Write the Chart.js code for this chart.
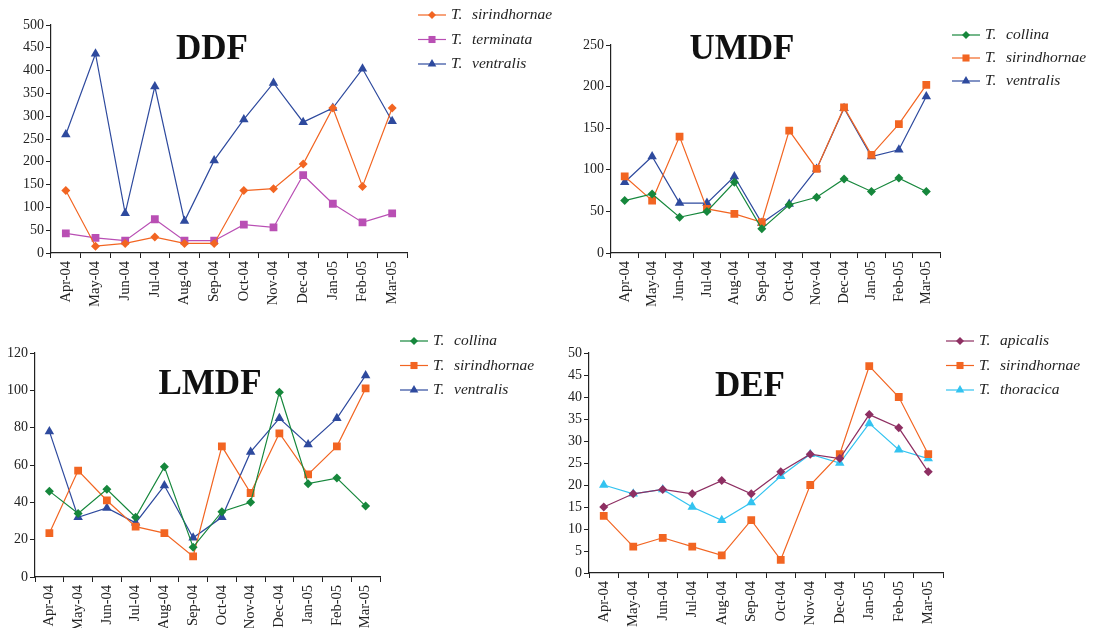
<!DOCTYPE html>
<html>
<head>
<meta charset="utf-8">
<script src="https://cdn.jsdelivr.net/npm/chart.js@4.4.1/dist/chart.umd.min.js"></script>
<style>
  body { margin: 0; background: #fff; }
  .panel { position: absolute; }
</style>
</head>
<body>
<div class="panel" style="left:0;top:0"><canvas id="ddf" width="560" height="318"></canvas></div>
<div class="panel" style="left:560px;top:0"><canvas id="umdf" width="540" height="318"></canvas></div>
<div class="panel" style="left:0;top:320px"><canvas id="lmdf" width="560" height="308"></canvas></div>
<div class="panel" style="left:560px;top:320px"><canvas id="def" width="540" height="308"></canvas></div>
<script>
var months = ["Apr-04", "May-04", "Jun-04", "Jul-04", "Aug-04", "Sep-04", "Oct-04", "Nov-04", "Dec-04", "Jan-05", "Feb-05", "Mar-05"];

// DDF
var ddfSirindhornae = [137, 15, 21, 35, 21, 21, 137, 141, 195, 318, 146, 318];
var ddfTerminata = [43, 33, 27, 74, 27, 27, 62, 56, 171, 108, 67, 87];
var ddfVentralis = [260, 437, 87, 365, 70, 203, 293, 373, 287, 318, 404, 289];

// UMDF
var umdfCollina = [63, 71, 43, 50, 85, 29, 58, 67, 89, 74, 90, 74];
var umdfSirindhornae = [92, 63, 140, 53, 47, 37, 147, 101, 175, 118, 155, 202];
var umdfVentralis = [85, 116, 60, 60, 92, 36, 59, 101, 174, 116, 124, 188];

// LMDF
var lmdfCollina = [46, 34, 47, 32, 59, 16, 35, 40, 99, 50, 53, 38];
var lmdfSirindhornae = [23.5, 57, 41, 27, 23.5, 11, 70, 45, 77, 55, 70, 101];
var lmdfVentralis = [78, 32, 37, 29, 49, 21, 32, 67, 85, 71, 85, 108];

// DEF
var defApicalis = [15, 18, 19, 18, 21, 18, 23, 27, 26, 36, 33, 23];
var defSirindhornae = [13, 6, 8, 6, 4, 12, 3, 20, 27, 47, 40, 27];
var defThoracica = [20, 18, 19, 15, 12, 16, 22, 27, 25, 34, 28, 26];

var ORANGE = "#f26522";
var BLUE = "#2e4a9e";
var MAGENTA = "#b94fb4";
var GREEN = "#16873c";
var PLUM = "#8e2f62";
var CYAN = "#33c3f0";

function series(name, data, color, style) {
    var r = style === "triangle" ? 5.5 : (style === "rect" ? 5.5 : 4.5);
    return {
        label: name,
        data: data,
        borderColor: color,
        backgroundColor: color,
        borderWidth: 1.2,
        pointStyle: style,
        pointRadius: r,
        pointHoverRadius: r,
        pointBorderWidth: 0,
        tension: 0
    };
}

// draws the big title and the line+marker legend at fixed spots
var panelDecor = {
    id: "panelDecor",
    afterDraw: function (chart, args, opts) {
        var ctx = chart.ctx;
        ctx.save();
        ctx.fillStyle = "#111";
        ctx.font = "bold 35px 'Liberation Serif', serif";
        ctx.textAlign = "center";
        ctx.textBaseline = "middle";
        ctx.fillText(opts.title, opts.titleX, opts.titleY);

        chart.data.datasets.forEach(function (ds, i) {
            var y = opts.legendY + i * opts.legendGap;
            ctx.strokeStyle = ds.borderColor;
            ctx.lineWidth = 1.2;
            ctx.beginPath();
            ctx.moveTo(opts.legendX, y);
            ctx.lineTo(opts.legendX + 28, y);
            ctx.stroke();
            ctx.fillStyle = ds.backgroundColor;
            Chart.helpers.drawPoint(ctx, { pointStyle: ds.pointStyle, radius: ds.pointRadius - 0.5, rotation: 0, borderWidth: 0 }, opts.legendX + 14, y);
            ctx.fillStyle = "#222";
            ctx.font = "italic 15.5px 'Liberation Serif', serif";
            ctx.textAlign = "left";
            ctx.textBaseline = "middle";
            ctx.fillText("T.", opts.legendX + 33, y);
            ctx.fillText(ds.label, opts.legendX + 54, y);
        });
        ctx.restore();
    }
};

function makePanel(id, datasets, yMax, yStep, lay, decor) {
    var ctx = document.getElementById(id).getContext("2d");
    return new Chart(ctx, {
        type: "line",
        data: { labels: months, datasets: datasets },
        options: {
            responsive: false,
            animation: false,
            layout: { padding: { top: lay.top, right: lay.right, left: 0, bottom: 0 } },
            scales: {
                x: {
                    offset: true,
                    grid: { offset: true, drawOnChartArea: false, drawTicks: true, tickLength: 5, color: "#222", lineWidth: 1 },
                    border: { color: "#222", width: 1.2 },
                    ticks: {
                        minRotation: 90,
                        maxRotation: 90,
                        autoSkip: false,
                        padding: 3,
                        color: "#222",
                        font: { family: "'Liberation Serif', serif", size: 14.5 }
                    },
                    afterFit: function (scale) { scale.height = lay.xh; }
                },
                y: {
                    min: 0,
                    max: yMax,
                    grid: { drawOnChartArea: false, tickLength: 5, color: "#222", lineWidth: 1 },
                    border: { color: "#222", width: 1.2 },
                    ticks: {
                        stepSize: yStep,
                        padding: 2,
                        color: "#222",
                        font: { family: "'Liberation Serif', serif", size: 14 }
                    },
                    afterFit: function (scale) { scale.width = lay.yw; }
                }
            },
            plugins: {
                legend: { display: false },
                tooltip: { enabled: false },
                panelDecor: decor
            }
        },
        plugins: [panelDecor]
    });
}

makePanel("ddf", [
    series("sirindhornae", ddfSirindhornae, ORANGE, "rectRot"),
    series("terminata", ddfTerminata, MAGENTA, "rect"),
    series("ventralis", ddfVentralis, BLUE, "triangle")
], 500, 50, { top: 25, right: 153, yw: 51, xh: 65 },
{ title: "DDF", titleX: 212, titleY: 50, legendX: 418, legendY: 15, legendGap: 24.5 });

makePanel("umdf", [
    series("collina", umdfCollina, GREEN, "rectRot"),
    series("sirindhornae", umdfSirindhornae, ORANGE, "rect"),
    series("ventralis", umdfVentralis, BLUE, "triangle")
], 250, 50, { top: 45, right: 160, yw: 51, xh: 65 },
{ title: "UMDF", titleX: 182, titleY: 50, legendX: 392, legendY: 35, legendGap: 23 });

makePanel("lmdf", [
    series("collina", lmdfCollina, GREEN, "rectRot"),
    series("sirindhornae", lmdfSirindhornae, ORANGE, "rect"),
    series("ventralis", lmdfVentralis, BLUE, "triangle")
], 120, 20, { top: 33, right: 180, yw: 35, xh: 51 },
{ title: "LMDF", titleX: 210, titleY: 65, legendX: 400, legendY: 21, legendGap: 24.5 });

makePanel("def", [
    series("apicalis", defApicalis, PLUM, "rectRot"),
    series("sirindhornae", defSirindhornae, ORANGE, "rect"),
    series("thoracica", defThoracica, CYAN, "triangle")
], 50, 5, { top: 33, right: 157, yw: 29, xh: 55 },
{ title: "DEF", titleX: 190, titleY: 67, legendX: 386, legendY: 21, legendGap: 24.5 });
</script>
</body>
</html>
